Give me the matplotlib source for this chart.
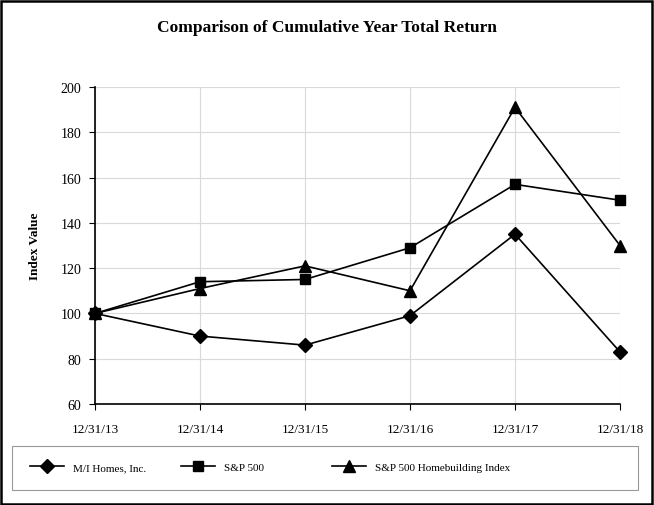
import matplotlib
matplotlib.use("Agg")
import matplotlib.pyplot as plt
from matplotlib.patches import Rectangle

plt.rcParams['font.family'] = ['Liberation Serif', 'DejaVu Serif']

# Data
dates = ['12/31/13', '12/31/14', '12/31/15', '12/31/16', '12/31/17', '12/31/18']
mi_homes = [100, 90, 86, 99, 135, 83]
sp500 = [100, 114, 115, 129, 157, 150]
sp_homebuilding = [100, 111, 121, 110, 191, 130]

fig = plt.figure(figsize=(6.54, 5.06), dpi=100)

# outer border
fig.patches.append(Rectangle((0.002, 0.002), 0.995, 0.995, transform=fig.transFigure,
                             fill=False, edgecolor='black', linewidth=1.8))

ax = fig.add_axes([95 / 654, 101 / 506, 525 / 654, 317 / 506])
x = list(range(len(dates)))

l1, = ax.plot(x, mi_homes, color='black', marker='D', markersize=7, linewidth=1.2,
              label='M/I Homes, Inc.', clip_on=False, zorder=3)
l2, = ax.plot(x, sp500, color='black', marker='s', markersize=7, linewidth=1.2,
              label='S&P 500', clip_on=False, zorder=3)
l3, = ax.plot(x, sp_homebuilding, color='black', marker='^', markersize=8, linewidth=1.2,
              label='S&P 500 Homebuilding Index', clip_on=False, zorder=3)

ax.set_xlim(0, 5)
ax.set_ylim(60, 200)
ax.set_yticks(range(60, 201, 20))
ax.set_xticks(x)
ax.set_xticklabels(dates)
ax.grid(True, color='#d9d9d9', linewidth=0.8)
ax.set_axisbelow(True)
for s in ['top', 'right']:
    ax.spines[s].set_visible(False)
ax.spines['left'].set_linewidth(1.2)
ax.spines['bottom'].set_linewidth(1.2)
ax.tick_params(axis='x', labelsize=9.5, direction='out', length=4, width=0.8, pad=10)
ax.tick_params(axis='y', labelsize=10, direction='out', length=4, width=0.8, pad=6)
ax.set_ylabel('Index Value', fontsize=9.5, fontweight='bold', labelpad=14)

fig.text(0.5, 0.945, 'Comparison of Cumulative Year Total Return', ha='center', va='center',
         fontsize=12.5, fontweight='bold')

# legend box
fig.patches.append(Rectangle((12 / 654, 15 / 506), 626 / 654, 44 / 506, transform=fig.transFigure,
                             fill=False, edgecolor='#999999', linewidth=0.8))
for line, xpos in [(l1, 30), (l2, 181), (l3, 332)]:
    leg = fig.legend([line], [line.get_label()], loc='center left',
                     bbox_to_anchor=(xpos / 654, 38 / 506), frameon=False,
                     fontsize=8, handlelength=3.1, handletextpad=0.8, borderaxespad=0,
                     borderpad=0)

fig.savefig('out.png', dpi=100)
